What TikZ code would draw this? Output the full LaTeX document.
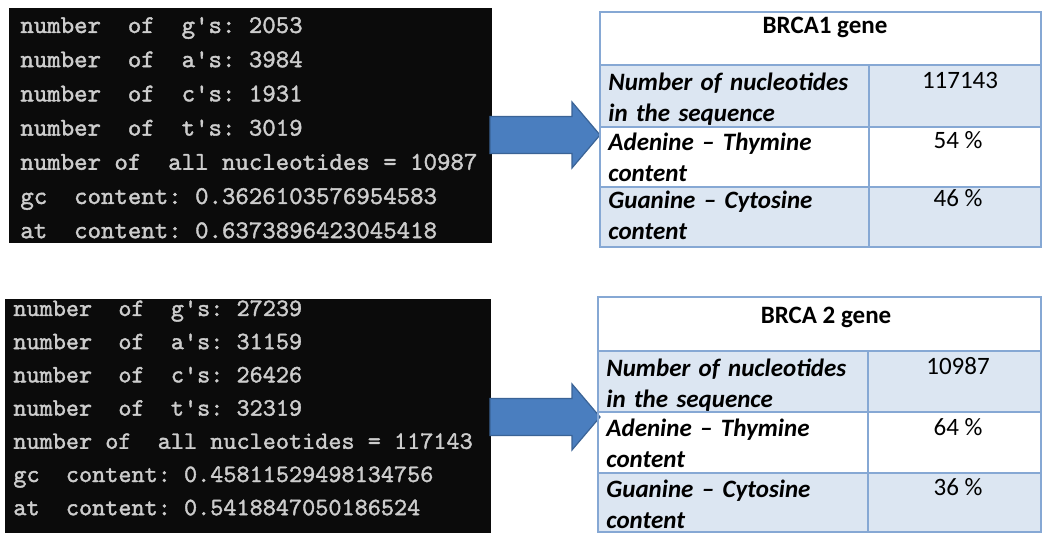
\documentclass[tikz,border=0pt]{standalone}
\usepackage{fontspec}
\setmainfont{Carlito}
\newfontfamily\termfont{lmmono10-regular.otf}[FakeBold=1.5]
\usetikzlibrary{calc}

\definecolor{termbg}{HTML}{0B0B0B}
\definecolor{termtxt}{HTML}{CDCDCD}
\definecolor{arrowblue}{HTML}{4A7EBF}
\definecolor{arrowedge}{HTML}{3A6396}
\definecolor{gridblue}{HTML}{86A8D4}
\definecolor{cellfill}{HTML}{DCE6F2}
% one blank of the terminal font
\newcommand\tsp{\hphantom{0}}

\begin{document}
\begin{tikzpicture}[x=0.5pt,y=-0.5pt,
	termtext/.style={anchor=base west, inner sep=0pt, align=left, text width=240pt, text=termtxt},
	gridline/.style={draw=gridblue, line width=1pt},
	rowlabel/.style={anchor=base west, inner sep=0pt, align=left, text width=128pt, font=\bfseries\itshape\fontsize{12.5}{15.5}\selectfont},
	cellvalue/.style={anchor=base, inner sep=0pt, font=\fontsize{12.5}{15.5}\selectfont},
	tablehead/.style={anchor=base, inner sep=0pt, font=\bfseries\fontsize{12.5}{15.5}\selectfont},
	bigarrow/.style={fill=arrowblue, draw=arrowedge, line width=0.6pt, line join=miter}]
			%%%%% START %%%%%
			\useasboundingbox (0, 0) rectangle (1042, 533);
			
			% first terminal
			\fill[termbg] (9, 8) rectangle (492, 243);
			\node[termtext, font=\termfont\fontsize{12.8}{17.1}\selectfont] (term1) at (20, 33) {%
				number\tsp\tsp of\tsp\tsp g\textquotesingle s:\tsp 2053\\
				number\tsp\tsp of\tsp\tsp a\textquotesingle s:\tsp 3984\\
				number\tsp\tsp of\tsp\tsp c\textquotesingle s:\tsp 1931\\
				number\tsp\tsp of\tsp\tsp t\textquotesingle s:\tsp 3019\\
				number\tsp of\tsp\tsp all\tsp nucleotides\tsp =\tsp 10987\\
				gc\tsp\tsp content:\tsp 0.3626103576954583\\
				at\tsp\tsp content:\tsp 0.6373896423045418};
			
			% second terminal
			\fill[termbg] (5, 299) rectangle (491, 533);
			\node[termtext, font=\termfont\fontsize{12.5}{16.6}\selectfont] (term2) at (13, 316) {%
				number\tsp\tsp of\tsp\tsp g\textquotesingle s:\tsp 27239\\
				number\tsp\tsp of\tsp\tsp a\textquotesingle s:\tsp 31159\\
				number\tsp\tsp of\tsp\tsp c\textquotesingle s:\tsp 26426\\
				number\tsp\tsp of\tsp\tsp t\textquotesingle s:\tsp 32319\\
				number\tsp of\tsp\tsp all\tsp nucleotides\tsp =\tsp 117143\\
				gc\tsp\tsp content:\tsp 0.45811529498134756\\
				at\tsp\tsp content:\tsp 0.5418847050186524};
			
			% arrows
			\coordinate (a1s) at (490, 135);
			\coordinate (a1e) at (600, 135);
			\draw[bigarrow] ($(a1s)+(0,-18.5)$) -- ++(82,0) -- ++(0,-14.5) -- (a1e)
				-- ++(-28,33) -- ++(0,-14.5) -- ($(a1s)+(0,18.5)$) -- cycle;
			\coordinate (a2s) at (490, 417);
			\coordinate (a2e) at (600, 417);
			\draw[bigarrow] ($(a2s)+(0,-18.5)$) -- ++(82,0) -- ++(0,-14.5) -- (a2e)
				-- ++(-28,33) -- ++(0,-14.5) -- ($(a2s)+(0,18.5)$) -- cycle;
			
			% first table
			\fill[cellfill] (600, 65) rectangle (1041, 127);
			\fill[cellfill] (600, 187) rectangle (1041, 247);
			\draw[gridline] (600, 12) rectangle (1041, 247);
			\draw[gridline] (600, 65) -- (1041, 65);
			\draw[gridline] (600, 127) -- (1041, 127);
			\draw[gridline] (600, 187) -- (1041, 187);
			\draw[gridline] (869, 65) -- (869, 247);
			\node[tablehead] (head1) at (825, 34) {BRCA1 gene};
			\node[rowlabel] (nuc1) at (608, 91) {Number of nucleotides\\in the sequence};
			\node[cellvalue] (nucv1) at (960, 89) {117143};
			\node[rowlabel] (at1) at (608, 151) {Adenine – Thymine\\content};
			\node[cellvalue] (atv1) at (958, 149) {54 \%};
			\node[rowlabel] (gc1) at (608, 209) {Guanine – Cytosine\\content};
			\node[cellvalue] (gcv1) at (958, 207) {46 \%};
			
			% second table
			\fill[cellfill] (598, 351) rectangle (1041, 412);
			\fill[cellfill] (598, 473) rectangle (1041, 532);
			\draw[gridline] (598, 297) rectangle (1041, 532);
			\draw[gridline] (598, 351) -- (1041, 351);
			\draw[gridline] (598, 412) -- (1041, 412);
			\draw[gridline] (598, 473) -- (1041, 473);
			\draw[gridline] (868, 351) -- (868, 532);
			\node[tablehead] (head2) at (826, 324) {BRCA 2 gene};
			\node[rowlabel] (nuc2) at (606, 377) {Number of nucleotides\\in the sequence};
			\node[cellvalue] (nucv2) at (958, 375) {10987};
			\node[rowlabel] (at2) at (606, 437) {Adenine – Thymine\\content};
			\node[cellvalue] (atv2) at (958, 435) {64 \%};
			\node[rowlabel] (gc2) at (606, 497) {Guanine – Cytosine\\content};
			\node[cellvalue] (gcv2) at (958, 495) {36 \%};
			%%%%% END %%%%%
\end{tikzpicture}
\end{document}
